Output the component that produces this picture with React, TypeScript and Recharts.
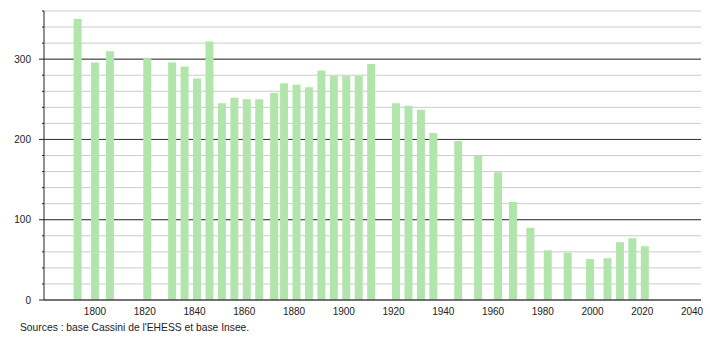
import React from 'react';
import { BarChart, Bar, XAxis, YAxis, CartesianGrid } from 'recharts';

const years = [
  1793, 1800, 1806, 1821, 1831, 1836, 1841, 1846, 1851, 1856, 1861, 1866, 1872,
  1876, 1881, 1886, 1891, 1896, 1901, 1906, 1911, 1921, 1926, 1931, 1936, 1946,
  1954, 1962, 1968, 1975, 1982, 1990, 1999, 2006, 2011, 2016, 2021,
];

const population = [
  350, 296, 310, 301, 296, 291, 276, 322, 245, 252, 250, 250, 258,
  270, 268, 265, 286, 279, 279, 279, 294, 245, 242, 237, 208, 198,
  180, 159, 122, 90, 62, 59, 51, 52, 72, 77, 67,
];

const yTicks = [0, 20, 40, 60, 80, 100, 120, 140, 160, 180, 200, 220, 240, 260, 280, 300, 320, 340, 360];
const majorTicks = [100, 200, 300];
const xTicks = [1800, 1820, 1840, 1860, 1880, 1900, 1920, 1940, 1960, 1980, 2000, 2020, 2040];

const source = "Sources : base Cassini de l'EHESS et base Insee.";

const data = years.map((year, i) => ({ year, pop: population[i] }));

const FONT = '"Liberation Sans", Arial, sans-serif';

const YTick = (props: any) => {
  const { x, y, payload } = props;
  const major = payload.value % 100 === 0;
  return (
    <g>
      <line x1={x - (major ? 5 : 2)} x2={x} y1={y} y2={y} stroke="#222" strokeWidth={1} />
      {major && (
        <text x={x - 13} y={y} dy={3.5} textAnchor="end" fontSize={10} fontFamily={FONT} fill="#222">
          {payload.value}
        </text>
      )}
    </g>
  );
};

export default function App() {
  return (
    <div style={{ position: 'absolute', left: 0, top: 0, width: 710, height: 340, background: '#fff' }}>
      <BarChart
        width={710}
        height={340}
        data={data}
        margin={{ top: 11, right: 9, bottom: 20, left: 0 }}
      >
        {/* light lines every 20, darker ones every 100, both behind the bars */}
        <CartesianGrid vertical={false} stroke="#cccccc" strokeWidth={1} />
        <CartesianGrid
          vertical={false}
          horizontalValues={majorTicks}
          stroke="#333"
          strokeWidth={1}
        />
        <XAxis
          dataKey="year"
          type="number"
          domain={[1779.5, 2043.6]}
          ticks={xTicks}
          tickLine={false}
          axisLine={{ stroke: '#000', strokeWidth: 1 }}
          tick={{ fontSize: 10, fontFamily: FONT, fill: '#222' }}
          tickMargin={2}
          height={20}
          allowDataOverflow
        />
        <YAxis
          type="number"
          domain={[0, 360]}
          ticks={yTicks}
          interval={0}
          width={44}
          tickLine={false}
          tickSize={0}
          tickMargin={0}
          axisLine={{ stroke: '#222', strokeWidth: 1 }}
          tick={<YTick />}
        />
        <Bar dataKey="pop" fill="#b2e5ab" barSize={8} isAnimationActive={false} />
      </BarChart>
      <div
        style={{
          position: 'absolute',
          left: 20,
          top: 322,
          fontSize: 10.3,
          fontFamily: FONT,
          color: '#222',
          whiteSpace: 'nowrap',
        }}
      >
        {source}
      </div>
    </div>
  );
}
